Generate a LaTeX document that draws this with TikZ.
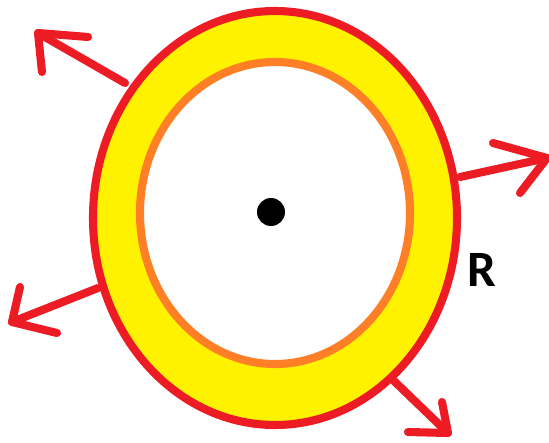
\documentclass[tikz,border=0pt]{standalone}
\usepackage{fontspec}
\setsansfont{Carlito}
\usepackage{xcolor}
\usetikzlibrary{calc}

\definecolor{paintred}{RGB}{237,28,36}
\definecolor{paintyellow}{RGB}{255,242,0}
\definecolor{paintorange}{RGB}{255,127,39}

\begin{document}
\begin{tikzpicture}[x=0.02cm, y=-0.02cm, line cap=round, line join=round,
  push/.style={paintred, line width=4.6pt}]
\useasboundingbox (0,0) rectangle (549,443);

% ring
\fill[paintyellow] (275,218) coordinate(O) ellipse (182 and 207);
\fill[white] (275,213) coordinate(I) ellipse (135 and 151);
\draw[paintorange, line width=4.6pt] (I) ellipse (135 and 151);
\draw[paintred, line width=4.6pt] (O) ellipse (182 and 207);

% centre
\fill (271,212) coordinate(C) circle (14);

% arrows pushing outwards
\draw[push] (125,83) -- (38,33) coordinate(P1);
\draw[push] (42,72) -- (P1) -- (88,37);
\draw[push] (460,177) -- (547,158) coordinate(P2);
\draw[push] (493,143) -- (P2) -- (520,193);
\draw[push] (98,288) -- (12,322) coordinate(P3);
\draw[push] (20,287) -- (P3) -- (57,333);
\draw[push] (393,380) -- (448,433) coordinate(P4);
\draw[push] (442,402) -- (P4) -- (408,432);

\node[font=\sffamily\bfseries\fontsize{29}{29}\selectfont] (R) at (482,270) {R};
\end{tikzpicture}
\end{document}
